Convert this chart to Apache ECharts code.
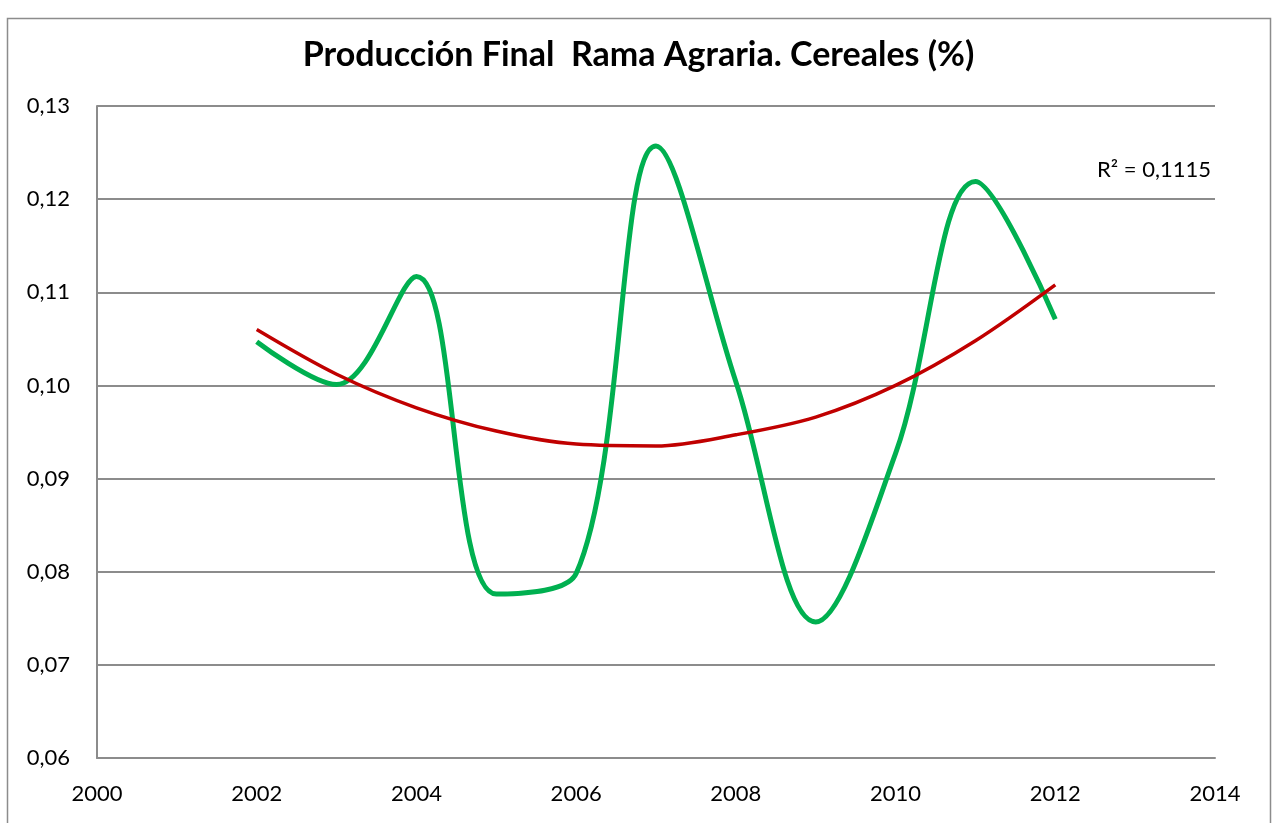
<!DOCTYPE html>
<html>
<head>
<meta charset="utf-8">
<title>Producción Final Rama Agraria. Cereales (%)</title>
<script src="https://cdn.jsdelivr.net/npm/echarts@6/dist/echarts.min.js"></script>
<style>
  html, body { margin: 0; padding: 0; background: #fff; }
  #chart { width: 1277px; height: 823px; }
</style>
</head>
<body>
<div id="chart"></div>
<script>
var years = [2002, 2003, 2004, 2005, 2006, 2007, 2008, 2009, 2010, 2011, 2012]
var cereales = [0.1047, 0.1001, 0.1117, 0.0776, 0.0798, 0.1257, 0.1004, 0.0746, 0.0927, 0.1219, 0.1071]
// tendencia polinómica
var tendencia = [0.1060, 0.1012, 0.0976, 0.0951, 0.0937, 0.0935, 0.0947, 0.0966, 0.1000, 0.1048, 0.1108]
var r2Label = 'R² = 0,1115'

var font = 'Lato, "Open Sans", sans-serif'

function pairs(ys) {
  var out = []
  for (var i = 0; i < years.length; i++) {
    out.push([years[i], ys[i]])
  }
  return out
}

var chart = echarts.init(document.getElementById('chart'))
chart.setOption({
  backgroundColor: '#ffffff',
  animation: false,
  title: {
    text: 'Producción Final  Rama Agraria. Cereales (%)',
    left: 'center',
    top: 33,
    textStyle: {
      fontFamily: font,
      fontWeight: 'bold',
      fontSize: 34,
      color: '#000'
    }
  },
  graphic: [{
    type: 'rect',
    shape: { x: 7.5, y: 18.5, width: 1263, height: 820 },
    style: { fill: null, stroke: '#8c8c8c', lineWidth: 1.5 },
    silent: true
  }, {
    type: 'text',
    right: 66,
    top: 159,
    style: {
      text: r2Label,
      fontFamily: font,
      fontSize: 22,
      fill: '#000'
    }
  }],
  grid: {
    left: 97,
    right: 62,
    top: 106,
    bottom: 65
  },
  xAxis: {
    type: 'value',
    min: 2000,
    max: 2014,
    interval: 2,
    axisLine: { show: true, lineStyle: { color: '#8c8c8c', width: 2 } },
    axisTick: { show: false },
    splitLine: { show: false },
    axisLabel: {
      margin: 25,
      fontFamily: font,
      fontSize: 22,
      color: '#000',
      formatter: function(v) {
        return String(v)
      }
    }
  },
  yAxis: {
    type: 'value',
    min: 0.06,
    max: 0.13,
    interval: 0.01,
    axisLine: { show: true, lineStyle: { color: '#8c8c8c', width: 2 } },
    axisTick: { show: false },
    splitLine: { lineStyle: { color: '#8c8c8c', width: 2 } },
    axisLabel: {
      margin: 27,
      fontFamily: font,
      fontSize: 22,
      color: '#000',
      formatter: function(v) {
        return v.toFixed(2).replace('.', ',')
      }
    }
  },
  series: [{
    name: 'Cereales',
    type: 'line',
    smooth: 0.36,
    showSymbol: false,
    lineStyle: { color: '#00b050', width: 5 },
    data: pairs(cereales)
  }, {
    name: 'Tendencia',
    type: 'line',
    smooth: 0.33,
    showSymbol: false,
    lineStyle: { color: '#c00000', width: 3.5 },
    data: pairs(tendencia)
  }]
})
</script>
</body>
</html>
